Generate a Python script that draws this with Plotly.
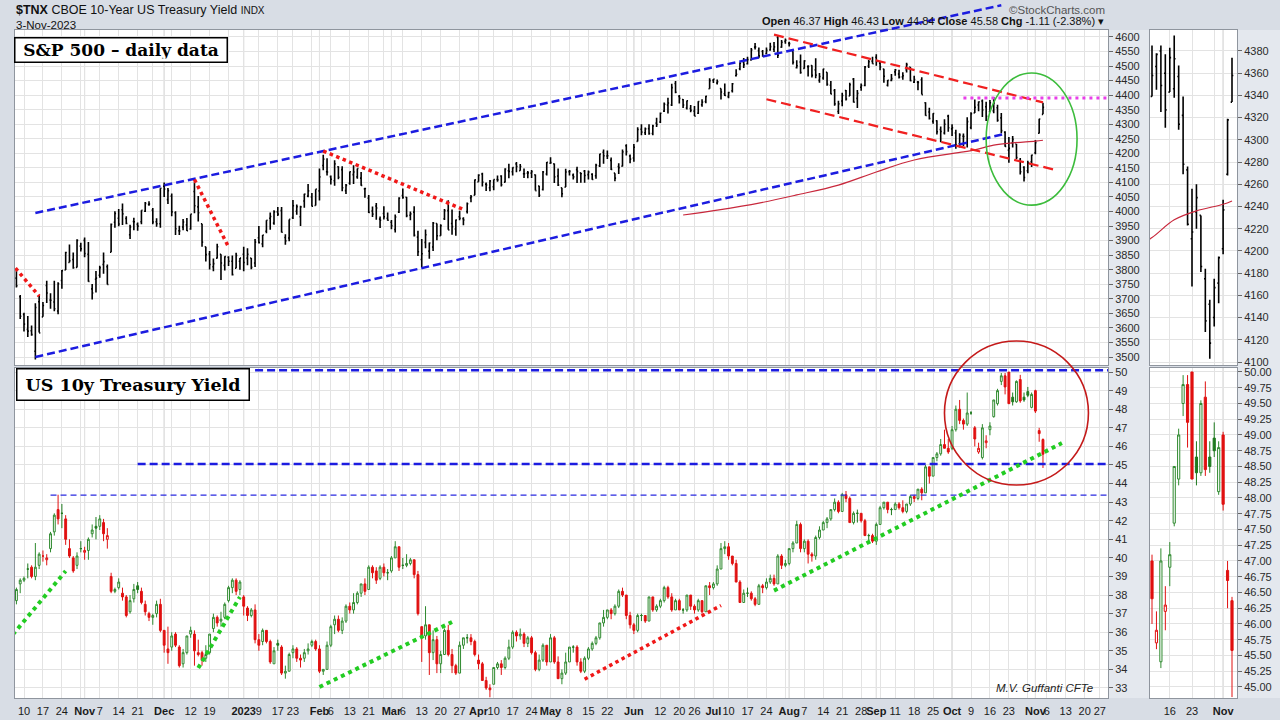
import plotly.graph_objects as go
import pandas as pd

# ---------------- DATA ----------------
holidays = ['2022-11-24', '2022-12-26', '2023-01-02', '2023-01-16', '2023-02-20', '2023-04-07',
            '2023-05-29', '2023-06-19', '2023-07-04', '2023-09-04', '2023-11-23']
first_day = '2022-10-06'

# S&P 500 daily OHLC (Oct 6 2022 .. Nov 3 2023), one row per month
spx_open = [
    3771, 3707, 3646, 3595, 3590, 3520, 3690, 3638, 3746, 3696, 3689, 3658, 3763, 3799, 3825, 3835, 3808, 3881,
    3901, 3853, 3734, 3767, 3781, 3818, 3810, 3860, 3963, 3977, 4006, 3976, 3920, 3966, 3956, 3965, 4001, 4024, 4005, 3965, 3958,
    4087, 4041, 4053, 3996, 3934, 3947, 3954, 3940, 4069, 4016, 3958, 3879, 3854, 3810, 3840, 3853, 3815, 3843, 3829, 3805, 3829,
    3853, 3840, 3840, 3823, 3910, 3889, 3932, 3977, 3960, 3999, 4003, 3911, 3909, 3979, 4001, 3982, 4036, 4053, 4050, 4021,
    4071, 4158, 4137, 4120, 4106, 4154, 4144, 4072, 4097, 4127, 4119, 4115, 4078, 4046, 4002, 4019, 3974, 3993, 3977,
    3963, 3938, 3998, 4055, 4049, 3987, 3998, 3912, 3835, 3894, 3864, 3878, 3959, 3917, 3975, 4003, 3959, 3940, 3982, 3975, 4000, 4047, 4056,
    4102, 4129, 4094, 4082, 4085, 4110, 4122, 4101, 4140, 4137, 4164, 4140, 4130, 4132, 4132, 4126, 4088, 4076, 4129,
    4166, 4164, 4122, 4082, 4084, 4137, 4125, 4144, 4133, 4139, 4127, 4128, 4123, 4157, 4204, 4191, 4176, 4132, 4155, 4156, 4226, 4191,
    4184, 4241, 4283, 4271, 4285, 4268, 4304, 4308, 4345, 4366, 4366, 4440, 4396, 4385, 4356, 4354, 4345, 4338, 4367, 4378, 4422,
    4451, 4442, 4423, 4405, 4395, 4415, 4467, 4491, 4514, 4508, 4521, 4565, 4553, 4550, 4543, 4555, 4558, 4598, 4565, 4585,
    4578, 4550, 4494, 4514, 4492, 4498, 4502, 4487, 4451, 4459, 4479, 4434, 4416, 4344, 4380, 4416, 4397, 4455, 4389, 4427, 4433, 4500, 4517,
    4530, 4510, 4490, 4434, 4451, 4480, 4473, 4463, 4487, 4497, 4445, 4445, 4453, 4374, 4342, 4310, 4312, 4282, 4270, 4328,
    4284, 4270, 4233, 4259, 4234, 4289, 4339, 4366, 4380, 4360, 4343, 4346, 4357, 4322, 4273, 4211, 4235, 4232, 4175, 4152, 4140, 4171,
    4202, 4269, 4334,
]
spx_high = [
    3797, 3713, 3652, 3641, 3608, 3685, 3712, 3689, 3762, 3719, 3762, 3757, 3799, 3862, 3887, 3859, 3905, 3893,
    3911, 3895, 3751, 3796, 3814, 3859, 3818, 3959, 4001, 4009, 4028, 3984, 3955, 3979, 3962, 4004, 4033, 4035, 4012, 3977, 4080,
    4100, 4081, 4062, 4001, 3951, 3974, 3978, 3991, 4101, 4053, 3958, 3879, 3864, 3839, 3889, 3853, 3846, 3846, 3849, 3858, 3840,
    3879, 3874, 3840, 3906, 3950, 3919, 3970, 3997, 4004, 4016, 4016, 3922, 3973, 4040, 4024, 4020, 4061, 4095, 4064, 4077,
    4148, 4195, 4183, 4124, 4176, 4156, 4156, 4095, 4138, 4159, 4148, 4136, 4082, 4057, 4017, 4029, 3983, 4018, 3997,
    3971, 3990, 4049, 4079, 4050, 4000, 4018, 3934, 3906, 3938, 3894, 3964, 3959, 3956, 4009, 4039, 4007, 3973, 4003, 3980, 4031, 4057, 4110,
    4128, 4133, 4100, 4108, 4110, 4124, 4125, 4149, 4164, 4152, 4170, 4163, 4148, 4139, 4143, 4127, 4089, 4139, 4170,
    4187, 4165, 4148, 4082, 4147, 4143, 4131, 4154, 4133, 4143, 4141, 4132, 4164, 4199, 4213, 4210, 4186, 4132, 4166, 4213, 4231, 4196,
    4232, 4290, 4300, 4289, 4300, 4298, 4322, 4340, 4375, 4391, 4439, 4449, 4401, 4387, 4382, 4366, 4363, 4379, 4386, 4398, 4458,
    4456, 4454, 4423, 4440, 4412, 4442, 4489, 4513, 4528, 4532, 4562, 4579, 4564, 4555, 4564, 4580, 4583, 4607, 4590, 4595,
    4584, 4551, 4520, 4540, 4520, 4503, 4503, 4527, 4476, 4491, 4479, 4449, 4421, 4381, 4408, 4418, 4443, 4459, 4418, 4440, 4500, 4521, 4532,
    4541, 4515, 4491, 4452, 4473, 4490, 4487, 4479, 4511, 4497, 4467, 4449, 4462, 4376, 4357, 4338, 4314, 4292, 4317, 4333,
    4300, 4281, 4269, 4268, 4324, 4341, 4385, 4378, 4385, 4377, 4383, 4394, 4367, 4339, 4276, 4256, 4260, 4232, 4184, 4156, 4175, 4195,
    4246, 4319, 4374,
]
spx_low = [
    3739, 3631, 3588, 3569, 3573, 3491, 3584, 3638, 3686, 3666, 3657, 3647, 3735, 3799, 3825, 3803, 3808, 3863,
    3843, 3759, 3698, 3722, 3772, 3786, 3749, 3860, 3944, 3949, 3954, 3956, 3906, 3936, 3934, 3956, 3998, 4020, 3956, 3948, 3944,
    4050, 4026, 3984, 3919, 3919, 3936, 3933, 3937, 3994, 3966, 3879, 3828, 3801, 3795, 3839, 3765, 3797, 3813, 3780, 3805, 3800,
    3795, 3815, 3802, 3809, 3890, 3877, 3925, 3937, 3955, 3985, 3928, 3886, 3898, 3974, 3989, 3950, 4013, 4049, 4017, 4021,
    4038, 4142, 4124, 4093, 4089, 4111, 4070, 4060, 4092, 4095, 4113, 4089, 4047, 3995, 3981, 3972, 3943, 3973, 3968,
    3939, 3928, 3995, 4044, 3980, 3970, 3914, 3847, 3808, 3874, 3838, 3864, 3901, 3917, 3971, 3937, 3920, 3917, 3970, 3953, 3993, 4032, 4056,
    4102, 4086, 4071, 4070, 4073, 4102, 4086, 4100, 4114, 4124, 4135, 4140, 4115, 4114, 4115, 4072, 4050, 4072, 4124,
    4164, 4098, 4088, 4049, 4084, 4124, 4110, 4098, 4099, 4099, 4110, 4109, 4113, 4153, 4164, 4181, 4143, 4104, 4129, 4155, 4193, 4166,
    4171, 4241, 4262, 4263, 4264, 4262, 4291, 4304, 4342, 4337, 4363, 4407, 4371, 4356, 4351, 4341, 4328, 4335, 4360, 4372, 4422,
    4442, 4437, 4385, 4397, 4389, 4409, 4464, 4486, 4493, 4505, 4519, 4557, 4527, 4532, 4541, 4553, 4548, 4528, 4563, 4577,
    4567, 4505, 4492, 4474, 4491, 4464, 4461, 4458, 4443, 4453, 4432, 4403, 4364, 4335, 4362, 4382, 4397, 4375, 4356, 4415, 4431, 4493, 4508,
    4501, 4486, 4443, 4430, 4448, 4467, 4457, 4453, 4478, 4448, 4442, 4417, 4402, 4329, 4316, 4302, 4265, 4238, 4265, 4274,
    4260, 4216, 4220, 4225, 4220, 4283, 4339, 4345, 4325, 4311, 4343, 4338, 4309, 4269, 4223, 4168, 4220, 4181, 4127, 4103, 4132, 4153,
    4197, 4268, 4334,
]
spx_close = [
    3745, 3640, 3613, 3589, 3577, 3670, 3583, 3677, 3720, 3695, 3666, 3752, 3797, 3859, 3831, 3807, 3901, 3872,
    3856, 3760, 3720, 3771, 3807, 3828, 3749, 3956, 3993, 3957, 3992, 3959, 3947, 3965, 3950, 4004, 4028, 4026, 3964, 3958, 4080,
    4077, 4072, 3999, 3941, 3933, 3964, 3934, 3991, 4020, 3996, 3895, 3852, 3818, 3821, 3879, 3823, 3845, 3829, 3783, 3849, 3840,
    3825, 3853, 3808, 3895, 3893, 3919, 3970, 3983, 3999, 3991, 3929, 3899, 3973, 4020, 4017, 4016, 4060, 4071, 4018, 4077,
    4119, 4180, 4136, 4111, 4164, 4118, 4082, 4090, 4137, 4136, 4148, 4090, 4079, 3997, 3991, 4012, 3970, 3982, 3970,
    3951, 3981, 4046, 4048, 3986, 3992, 3918, 3862, 3855, 3920, 3892, 3960, 3917, 3951, 4003, 3937, 3948, 3971, 3977, 3971, 4027, 4051, 4109,
    4125, 4101, 4091, 4105, 4110, 4109, 4092, 4146, 4138, 4151, 4155, 4155, 4130, 4133, 4137, 4072, 4056, 4136, 4169,
    4168, 4119, 4091, 4061, 4136, 4138, 4119, 4138, 4131, 4124, 4136, 4110, 4159, 4198, 4192, 4192, 4145, 4115, 4151, 4205, 4206, 4180,
    4221, 4282, 4273, 4284, 4268, 4294, 4299, 4338, 4369, 4373, 4426, 4410, 4389, 4366, 4381, 4348, 4328, 4378, 4376, 4396, 4450,
    4455, 4446, 4411, 4399, 4409, 4439, 4472, 4510, 4505, 4522, 4555, 4566, 4535, 4536, 4554, 4567, 4566, 4537, 4582, 4589,
    4577, 4513, 4501, 4478, 4518, 4499, 4468, 4469, 4464, 4490, 4437, 4404, 4370, 4370, 4399, 4387, 4436, 4376, 4406, 4433, 4497, 4515, 4508,
    4516, 4497, 4465, 4451, 4457, 4487, 4462, 4467, 4505, 4450, 4454, 4444, 4402, 4330, 4320, 4337, 4274, 4275, 4300, 4288,
    4288, 4229, 4263, 4258, 4309, 4336, 4358, 4377, 4349, 4327, 4374, 4373, 4314, 4278, 4224, 4217, 4248, 4186, 4137, 4117, 4167, 4194,
    4237, 4318, 4358,
]

# US 10y Treasury yield ($TNX, yield x 10) daily OHLC
tnx_open = [
    37.7, 38.6, 38.8, 39.4, 39.5, 39.0, 39.6, 40.1, 39.9, 40.5, 41.4, 42.6, 42.4, 42.1, 40.5, 40.0, 39.6, 40.5,
    40.3, 40.4, 41.3, 41.7, 41.7, 41.9, 41.0, 39.0, 38.2, 38.4, 38.1, 37.9, 37.1, 37.8, 38.5, 38.2, 37.5, 37.0, 36.8, 37.0, 37.5,
    36.1, 35.1, 35.2, 35.9, 35.2, 34.3, 34.9, 35.9, 35.9, 34.9, 34.9, 34.6, 34.9, 36.2, 36.8, 36.6, 36.8, 37.7, 38.4, 38.8, 38.3,
    37.9, 37.3, 36.9, 37.2, 35.6, 35.5, 36.1, 35.5, 34.3, 35.4, 35.2, 33.8, 33.9, 34.9, 35.1, 34.6, 34.6, 35.0, 35.3, 35.5,
    35.1, 33.9, 34.0, 35.3, 36.4, 36.7, 36.1, 36.6, 37.4, 37.2, 37.6, 38.1, 38.6, 38.3, 39.5, 39.3, 38.9, 39.5, 39.2,
    39.3, 40.0, 40.6, 39.6, 39.6, 39.7, 39.9, 39.1, 36.3, 35.8, 36.4, 34.9, 35.6, 34.3, 34.8, 36.1, 34.8, 34.2, 33.8, 35.3, 35.7, 35.7, 35.5,
    34.5, 34.3, 33.4, 33.0, 33.2, 34.1, 34.3, 34.1, 34.6, 35.2, 36.0, 35.8, 35.9, 35.4, 35.7, 34.9, 34.0, 34.5, 35.3,
    34.4, 35.7, 34.4, 33.5, 33.8, 34.4, 35.2, 35.2, 34.4, 33.9, 34.6, 35.1, 35.4, 35.7, 36.5, 36.8, 37.2, 37.0, 37.4, 38.2, 38.0, 36.9,
    36.4, 36.1, 36.9, 36.9, 36.6, 37.9, 37.2, 37.4, 37.7, 38.4, 37.9, 37.2, 37.7, 37.2, 37.2, 38.0, 37.4, 37.2, 37.7, 37.1, 38.5,
    38.4, 38.6, 39.4, 40.5, 40.6, 40.1, 39.7, 38.7, 37.6, 38.1, 38.1, 37.8, 37.5, 38.5, 38.4, 38.7, 38.9, 38.6, 40.1, 39.6,
    39.7, 40.5, 40.8, 41.8, 40.5, 40.9, 40.2, 40.1, 41.1, 41.5, 41.9, 42.1, 42.6, 43.0, 42.5, 43.4, 43.2, 41.9, 42.4, 42.4, 42.0, 41.2, 41.2,
    40.9, 41.8, 42.7, 43.0, 42.6, 42.6, 42.9, 42.7, 42.5, 42.9, 43.3, 43.2, 43.7, 43.5, 44.9, 44.4, 45.4, 45.6, 46.1, 45.9,
    45.9, 46.9, 48.0, 47.4, 47.2, 47.8, 47.0, 45.7, 45.4, 46.2, 46.9, 47.6, 48.3, 49.5, 49.8, 50.0, 48.65, 48.4, 49.6, 48.65, 48.95, 48.1,
    49.0, 46.85, 46.37,
]
tnx_high = [
    38.4, 38.9, 39.0, 39.7, 39.6, 40.8, 40.3, 40.4, 40.2, 41.4, 42.4, 43.4, 42.9, 42.3, 41.0, 40.1, 40.3, 40.9,
    40.6, 41.1, 41.8, 42.2, 42.3, 42.1, 41.6, 39.2, 38.4, 38.9, 38.4, 38.0, 38.0, 38.6, 38.7, 38.4, 37.7, 37.1, 37.0, 37.7, 37.8,
    36.1, 36.3, 36.0, 36.0, 35.3, 35.1, 35.8, 36.3, 36.1, 35.6, 35.0, 35.3, 35.9, 37.0, 36.9, 37.1, 37.6, 38.5, 38.9, 38.9, 38.8,
    38.0, 37.4, 37.3, 37.5, 35.9, 36.2, 36.1, 35.6, 35.2, 35.6, 35.3, 34.2, 34.9, 35.3, 35.2, 34.8, 35.1, 35.4, 35.6, 35.6,
    35.3, 34.0, 35.5, 36.4, 36.9, 36.9, 36.8, 37.5, 37.6, 38.1, 38.2, 38.6, 38.9, 39.6, 39.6, 39.5, 39.6, 39.7, 39.4,
    40.1, 40.9, 40.6, 40.0, 40.2, 40.0, 39.9, 39.3, 36.3, 37.4, 36.4, 36.1, 35.8, 35.0, 36.2, 36.4, 35.1, 34.3, 35.5, 35.7, 35.9, 35.9, 35.6,
    34.8, 34.4, 33.6, 33.2, 34.1, 34.4, 34.5, 34.7, 35.6, 36.1, 36.1, 36.2, 36.0, 35.8, 35.8, 35.0, 34.8, 35.4, 35.3,
    35.9, 35.8, 34.7, 34.0, 34.9, 35.2, 35.3, 35.3, 34.6, 34.7, 35.2, 35.5, 35.8, 36.5, 37.2, 37.2, 37.3, 37.5, 38.3, 38.4, 38.0, 37.1,
    36.5, 37.0, 37.0, 36.9, 37.9, 37.9, 37.5, 37.8, 38.5, 38.5, 38.1, 37.8, 37.8, 37.3, 38.0, 38.0, 37.5, 37.8, 37.7, 38.5, 38.7,
    38.7, 39.6, 40.8, 40.9, 40.8, 40.1, 39.9, 38.8, 38.3, 38.4, 38.2, 37.9, 38.6, 38.6, 38.9, 39.1, 39.1, 40.2, 40.2, 39.9,
    40.5, 40.9, 42.0, 41.9, 41.0, 41.0, 40.3, 41.2, 41.7, 42.0, 42.2, 42.6, 43.2, 43.1, 43.5, 43.6, 43.3, 42.5, 42.6, 42.4, 42.1, 41.3, 41.3,
    41.9, 42.8, 43.0, 43.0, 42.7, 43.0, 43.0, 43.1, 42.9, 43.4, 43.4, 43.7, 43.8, 45.0, 44.9, 45.4, 45.7, 46.4, 46.9, 46.4,
    47.1, 48.2, 48.5, 47.5, 48.9, 47.9, 47.1, 46.2, 47.2, 46.6, 47.3, 48.5, 49.1, 49.95, 49.95, 50.0, 48.9, 49.55, 49.85, 48.9, 49.2, 48.9,
    49.05, 47.0, 46.43,
]
tnx_low = [
    37.5, 38.1, 38.7, 38.9, 38.9, 38.8, 39.4, 39.8, 39.6, 40.3, 41.2, 41.8, 41.6, 40.7, 40.0, 39.2, 39.4, 40.3,
    39.9, 39.9, 41.1, 41.0, 41.5, 40.9, 40.5, 38.1, 38.1, 38.3, 37.7, 36.8, 37.0, 37.6, 38.1, 37.5, 36.9, 36.6, 36.4, 36.8, 36.0,
    34.9, 34.3, 35.0, 35.2, 34.1, 34.1, 34.8, 35.7, 34.2, 34.7, 34.2, 34.4, 34.8, 36.0, 36.3, 36.3, 36.7, 37.6, 38.1, 38.0, 38.0,
    36.9, 36.6, 36.8, 35.4, 35.0, 35.3, 35.4, 34.3, 34.3, 35.0, 33.7, 33.5, 33.9, 34.6, 34.4, 34.1, 34.4, 34.8, 35.2, 35.0,
    33.8, 33.7, 34.0, 35.2, 35.9, 36.0, 35.9, 36.5, 37.0, 37.0, 37.5, 37.9, 38.0, 38.3, 38.9, 38.6, 38.8, 39.0, 38.8,
    39.2, 40.0, 39.3, 39.4, 39.5, 39.6, 38.9, 36.9, 34.4, 35.6, 33.7, 34.5, 33.8, 33.8, 34.8, 34.7, 33.8, 33.7, 33.8, 35.1, 35.4, 35.3, 34.7,
    34.0, 33.4, 32.9, 32.5, 33.2, 34.0, 33.7, 34.0, 34.5, 35.1, 35.5, 35.6, 35.2, 35.2, 34.8, 33.9, 33.9, 34.4, 34.2,
    34.4, 34.3, 33.5, 33.2, 33.7, 34.4, 34.9, 34.2, 33.8, 33.8, 34.5, 35.0, 35.3, 35.6, 36.3, 36.7, 36.7, 36.9, 37.3, 37.9, 36.7, 36.2,
    35.9, 36.0, 36.6, 36.5, 36.6, 37.1, 37.1, 37.3, 37.6, 37.8, 37.1, 37.2, 37.2, 37.0, 37.1, 37.2, 37.0, 37.1, 37.0, 37.1, 38.0,
    38.3, 38.5, 39.4, 40.2, 39.9, 39.6, 38.7, 37.6, 37.6, 37.9, 37.7, 37.4, 37.5, 38.1, 38.3, 38.6, 38.5, 38.6, 39.4, 39.5,
    39.6, 40.3, 40.8, 40.3, 40.3, 39.7, 39.8, 39.9, 41.0, 41.5, 41.6, 42.0, 42.5, 42.4, 42.5, 43.0, 41.9, 41.8, 41.9, 41.9, 41.2, 40.9, 40.8,
    40.7, 41.8, 42.6, 42.4, 42.3, 42.6, 42.6, 42.4, 42.4, 42.8, 43.0, 43.1, 43.1, 43.5, 44.0, 44.4, 45.2, 45.5, 45.9, 45.6,
    45.8, 46.8, 47.2, 46.9, 47.1, 47.7, 46.0, 45.6, 45.3, 45.9, 46.6, 47.55, 48.2, 49.3, 48.8, 48.3, 48.2, 48.35, 48.35, 48.4, 48.65, 48.05,
    47.8, 46.25, 44.84,
]
tnx_close = [
    38.3, 38.8, 38.9, 39.4, 39.0, 39.5, 40.2, 40.1, 40.0, 41.3, 42.3, 42.1, 42.4, 41.0, 40.1, 39.3, 40.1, 40.5,
    40.4, 41.0, 41.5, 41.6, 42.1, 41.3, 41.2, 38.2, 38.3, 38.7, 37.9, 36.9, 37.7, 38.3, 38.3, 37.6, 37.1, 36.8, 36.9, 37.5, 36.1,
    35.3, 34.9, 35.8, 35.3, 34.2, 34.9, 35.8, 36.1, 35.0, 34.8, 34.5, 34.8, 35.9, 36.8, 36.5, 36.7, 37.5, 38.4, 38.8, 38.2, 38.7,
    37.4, 36.9, 37.2, 35.6, 35.3, 36.1, 35.5, 34.4, 35.0, 35.3, 33.8, 33.9, 34.8, 35.1, 34.6, 34.5, 34.9, 35.1, 35.5, 35.1,
    33.9, 34.0, 35.3, 36.3, 36.7, 36.1, 36.6, 37.4, 37.2, 37.6, 38.1, 38.6, 38.2, 39.5, 39.2, 38.8, 39.5, 39.2, 39.2,
    40.0, 40.6, 39.5, 39.6, 39.7, 39.9, 39.1, 37.0, 35.7, 36.4, 34.9, 35.6, 34.3, 34.8, 36.1, 34.8, 34.2, 33.8, 35.3, 35.7, 35.7, 35.5, 34.8,
    34.3, 33.4, 33.0, 32.9, 34.1, 34.3, 34.1, 34.6, 35.2, 36.0, 35.8, 35.9, 35.4, 35.7, 34.9, 34.0, 34.5, 35.3, 34.4,
    35.7, 34.4, 33.5, 33.8, 34.4, 35.2, 35.2, 34.4, 33.9, 34.6, 35.1, 35.4, 35.7, 36.5, 36.8, 37.2, 37.0, 37.4, 38.2, 38.0, 36.9, 36.4,
    36.1, 36.9, 36.9, 36.6, 37.9, 37.2, 37.4, 37.7, 38.4, 37.9, 37.2, 37.7, 37.2, 37.2, 38.0, 37.4, 37.2, 37.7, 37.1, 38.5, 38.4,
    38.6, 39.4, 40.5, 40.6, 40.1, 39.7, 38.7, 37.6, 38.1, 38.1, 37.8, 37.5, 38.5, 38.4, 38.7, 38.9, 38.6, 40.1, 39.6, 39.7,
    40.5, 40.8, 41.8, 40.5, 40.9, 40.2, 40.1, 41.1, 41.5, 41.9, 42.1, 42.6, 43.0, 42.5, 43.4, 43.2, 41.9, 42.4, 42.4, 42.0, 41.2, 41.2, 40.9,
    41.8, 42.7, 43.0, 42.6, 42.6, 42.9, 42.7, 42.5, 42.9, 43.3, 43.2, 43.7, 43.5, 44.9, 44.4, 45.4, 45.6, 46.1, 45.9, 45.7,
    46.9, 48.0, 47.4, 47.2, 47.8, 47.8, 46.4, 45.9, 47.0, 46.3, 47.1, 48.5, 49.0, 49.8, 49.2, 48.3, 48.4, 49.5, 48.45, 48.5, 48.75, 48.8,
    47.9, 46.69, 45.58,
]

# 200-day moving average of the S&P 500
ma_dates = ['2023-06-21', '2023-07-05', '2023-07-20', '2023-08-03', '2023-08-18', '2023-09-01', '2023-09-18',
            '2023-10-05', '2023-10-10', '2023-10-17', '2023-10-24', '2023-11-01', '2023-11-03']
ma_values = [3988, 4005, 4029, 4057, 4091, 4136, 4177, 4205, 4212, 4228, 4236, 4242, 4245]

# x-axis labels
tick_dates = ['2022-10-10', '2022-10-17', '2022-10-24', '2022-11-01', '2022-11-07', '2022-11-14', '2022-11-21',
              '2022-12-01', '2022-12-12', '2022-12-19', '2023-01-03', '2023-01-09', '2023-01-17', '2023-01-23',
              '2023-02-01', '2023-02-06', '2023-02-13', '2023-02-21', '2023-03-01', '2023-03-06', '2023-03-13',
              '2023-03-20', '2023-03-27', '2023-04-03', '2023-04-10', '2023-04-17', '2023-04-24', '2023-05-01',
              '2023-05-08', '2023-05-15', '2023-05-22', '2023-06-01', '2023-06-12', '2023-06-20', '2023-06-26',
              '2023-07-03', '2023-07-10', '2023-07-17', '2023-07-24', '2023-08-01', '2023-08-07', '2023-08-14',
              '2023-08-21', '2023-08-28', '2023-09-01', '2023-09-11', '2023-09-18', '2023-09-25', '2023-10-02',
              '2023-10-09', '2023-10-16', '2023-10-23', '2023-11-01', '2023-11-06', '2023-11-13', '2023-11-20',
              '2023-11-27']
tick_text = ['10', '17', '24', '<b>Nov</b>', '7', '14', '21', '<b>Dec</b>', '12', '19', '<b>2023</b>', '9', '17', '23',
             '<b>Feb</b>', '6', '13', '21', '<b>Mar</b>', '6', '13', '20', '27', '<b>Apr</b>', '10', '17', '24',
             '<b>May</b>', '8', '15', '22', '<b>Jun</b>', '12', '20', '26', '<b>Jul</b>', '10', '17', '24',
             '<b>Aug</b>', '7', '14', '21', '28', '<b>Sep</b>', '11', '18', '25', '<b>Oct</b>', '9', '16', '23',
             '<b>Nov</b>', '6', '13', '20', '27']
side_tick_dates = ['2023-10-16', '2023-10-23', '2023-11-01']
side_tick_text = ['16', '23', '<b>Nov</b>']

# drawn trend lines: (date0, value0, date1, value1, style)
spx_lines = [
    ('2022-10-13', 3995, '2023-10-19', 4709, 'blue'),
    ('2022-10-13', 3500, '2023-10-20', 4267, 'blue'),
    ('2022-09-29', 3879, '2022-10-14', 3709, 'reddot'),
    ('2022-12-13', 4110, '2022-12-27', 3878, 'reddot'),
    ('2023-02-02', 4208, '2023-03-28', 4007, 'reddot'),
    ('2023-07-26', 4608, '2023-11-03', 4375, 'reddash'),
    ('2023-07-24', 4386, '2023-11-08', 4144, 'reddash'),
    ('2023-10-05', 4390, '2023-11-30', 4390, 'magenta'),
]
tnx_lines = [
    ('2023-01-06', 50.1, '2023-11-30', 50.1, 'blue'),
    ('2022-11-21', 45.05, '2023-11-30', 45.05, 'blue'),
    ('2022-10-19', 43.38, '2023-11-30', 43.38, 'bluethin'),
    ('2022-09-29', 34.88, '2022-10-25', 39.29, 'greendot'),
    ('2022-12-14', 34.07, '2022-12-30', 37.90, 'greendot'),
    ('2023-02-01', 33.05, '2023-03-23', 36.55, 'greendot'),
    ('2023-05-12', 33.47, '2023-07-06', 37.44, 'reddot'),
    ('2023-07-26', 38.24, '2023-11-10', 46.18, 'greendot'),
]
spx_ellipse = ('2023-10-13', 4022, '2023-11-16', 4476)
tnx_ellipse = ('2023-09-28', 43.92, '2023-11-21', 51.67)

# ---------------- GEOMETRY ----------------
W, H = 1280, 720
cal = pd.bdate_range('2022-09-26', '2023-11-30', freq='C', holidays=holidays)
pos = {d.strftime('%Y-%m-%d'): i for i, d in enumerate(cal)}
k0 = pos[first_day]
lens = {k: len(v) for k, v in dict(spx_open=spx_open, spx_high=spx_high, spx_low=spx_low, spx_close=spx_close,
                                   tnx_open=tnx_open, tnx_high=tnx_high, tnx_low=tnx_low, tnx_close=tnx_close).items()}
if len(set(lens.values())) != 1:
    raise SystemExit('length mismatch: %s' % lens)
n = len(spx_close)
xs = list(range(k0, k0 + n))
dates = cal[k0:k0 + n]


def fx(px):
    return px / W


def fy(py):
    return 1 - py / H


main_dom = [fx(15), fx(1108)]
side_dom = [fx(1150), fx(1237)]
top_dom = [fy(365), fy(30)]
bot_dom = [fy(698), fy(368)]

px_per_day = 3.788
x_main = [pos['2022-10-10'] - 9 / px_per_day, pos['2022-10-10'] + 1084 / px_per_day]
x_side = [pos['2023-10-10'] - 2 / 4.444, pos['2023-11-03'] + 5 / 4.444]
y_top = [3472.5, 4624]
y_bot = [32.46, 50.22]
y_stop = [4097.3, 4398.9]
y_sbot = [44.825, 50.063]


def vp(v, rng, dom):
    return dom[0] + (v - rng[0]) / (rng[1] - rng[0]) * (dom[1] - dom[0])


# week / month starts for grid lines
week_starts, month_starts = [], []
for i, d in enumerate(cal):
    if i == 0:
        continue
    p = cal[i - 1]
    if d.isocalendar()[1] != p.isocalendar()[1]:
        week_starts.append(i)
    if d.month != p.month:
        month_starts.append(i)
grid_x = sorted(set(week_starts) | set(month_starts))
lab = {pos[d]: t for d, t in zip(tick_dates, tick_text)}
main_ticktext = [lab.get(g, '') for g in grid_x]
slab = {pos[d]: t for d, t in zip(side_tick_dates, side_tick_text)}
side_ticktext = [slab.get(g, '') for g in grid_x]

# ---------------- FIGURE ----------------
fig = go.Figure()

for xa, ya in [('x', 'y'), ('x3', 'y3')]:
    fig.add_trace(go.Ohlc(x=xs, open=spx_open, high=spx_high, low=spx_low, close=spx_close,
                          increasing=dict(line=dict(color='#000000', width=1.6)),
                          decreasing=dict(line=dict(color='#000000', width=1.6)),
                          tickwidth=0.3, xaxis=xa, yaxis=ya, hoverinfo='skip'))
    fig.add_trace(go.Scatter(x=[pos[d] for d in ma_dates], y=ma_values, mode='lines',
                             line=dict(color='#c8283c', width=1.2, shape='spline'),
                             xaxis=xa, yaxis=ya, hoverinfo='skip'))

prev_close = [tnx_open[0]] + tnx_close[:-1]
styles = {
    (True, True): ('#2f8a2f', '#ffffff'),
    (True, False): ('#1e7a1e', '#1e7a1e'),
    (False, True): ('#e01010', '#ffffff'),
    (False, False): ('#e01010', '#e01010'),
}
for xa, ya in [('x2', 'y2'), ('x4', 'y4')]:
    for key, (lc, fc) in styles.items():
        idx = [i for i in range(n) if (tnx_close[i] >= prev_close[i], tnx_close[i] > tnx_open[i]) == key]
        if not idx:
            continue
        st = dict(line=dict(color=lc, width=1), fillcolor=fc)
        fig.add_trace(go.Candlestick(x=[xs[i] for i in idx], open=[tnx_open[i] for i in idx],
                                     high=[tnx_high[i] for i in idx], low=[tnx_low[i] for i in idx],
                                     close=[tnx_close[i] for i in idx], increasing=st, decreasing=st,
                                     whiskerwidth=0, xaxis=xa, yaxis=ya, hoverinfo='skip'))

line_styles = {
    'blue': dict(color='#1c1ce0', width=2.5, dash='8px,4px'),
    'bluethin': dict(color='#2a2ae0', width=1.2, dash='6px,4px'),
    'reddot': dict(color='#f01818', width=3.5, dash='dot'),
    'reddash': dict(color='#f02020', width=2.2, dash='10px,5px'),
    'magenta': dict(color='#e83ee8', width=3, dash='3px,4px'),
    'greendot': dict(color='#22cc22', width=4, dash='dot'),
}
shapes = []
for xref, items, rng, dom in [('x', spx_lines, y_top, top_dom), ('x2', tnx_lines, y_bot, bot_dom)]:
    for d0, v0, d1, v1, s in items:
        shapes.append(dict(type='line', xref=xref, yref='paper', x0=pos[d0], x1=pos[d1],
                           y0=vp(v0, rng, dom), y1=vp(v1, rng, dom), line=line_styles[s], layer='above'))
for xref, (d0, v0, d1, v1), rng, dom, col in [('x', spx_ellipse, y_top, top_dom, '#3cbc3c'),
                                               ('x2', tnx_ellipse, y_bot, bot_dom, '#c41a1a')]:
    shapes.append(dict(type='circle', xref=xref, yref='paper', x0=pos[d0], x1=pos[d1],
                       y0=vp(v0, rng, dom), y1=vp(v1, rng, dom), line=dict(color=col, width=1.6)))

# darker month grid lines
for xref, dom in [('x', top_dom), ('x2', bot_dom), ('x3', top_dom), ('x4', bot_dom)]:
    for m in month_starts:
        shapes.append(dict(type='line', xref=xref, yref='paper', x0=m, x1=m, y0=dom[0], y1=dom[1],
                           line=dict(color='#c4c4c4', width=1), layer='between'))

# axis-label columns
for a, b in [(1108, 1150), (1237, 1280)]:
    shapes.append(dict(type='rect', xref='paper', yref='paper', x0=fx(a), x1=fx(b), y0=fy(698), y1=fy(30),
                       fillcolor='#e4e8ee', line=dict(width=0), layer='below'))

NARROW = 'Liberation Sans Narrow, Arial Narrow, Liberation Sans, Arial, sans-serif'
axis_common = dict(showline=True, linecolor='#8f959e', linewidth=1, mirror=True, showgrid=True,
                   gridcolor='#e3e3e3', gridwidth=1, zeroline=False, automargin=False,
                   rangeslider=dict(visible=False), fixedrange=True, tickangle=0)
yaxis_common = dict(showline=True, linecolor='#8f959e', linewidth=1, mirror=True, showgrid=True,
                    gridcolor='#e3e3e3', gridwidth=1, zeroline=False, automargin=False, side='right',
                    ticks='outside', ticklen=4, tickcolor='#666666',
                    tickfont=dict(family=NARROW, size=11, color='#2a2a2a'), fixedrange=True)
xfont = dict(family=NARROW, size=11, color='#1a1a1a')

fig.update_layout(
    width=W, height=H, margin=dict(l=0, r=0, t=0, b=0), autosize=False,
    paper_bgcolor='#d8dde5', plot_bgcolor='#ffffff', showlegend=False, hovermode=False,
    xaxis=dict(domain=main_dom, anchor='y', range=x_main, tickmode='array', tickvals=grid_x,
               ticktext=main_ticktext, showticklabels=False, ticks='', **axis_common),
    xaxis2=dict(domain=main_dom, anchor='y2', range=x_main, matches='x', tickmode='array', tickvals=grid_x,
                ticktext=main_ticktext, showticklabels=True, ticks='', ticklabelstandoff=3,
                tickfont=xfont, **axis_common),
    xaxis3=dict(domain=side_dom, anchor='y3', range=x_side, tickmode='array', tickvals=grid_x,
                ticktext=side_ticktext, showticklabels=False, ticks='', **axis_common),
    xaxis4=dict(domain=side_dom, anchor='y4', range=x_side, matches='x3', tickmode='array', tickvals=grid_x,
                ticktext=side_ticktext, showticklabels=True, ticks='', ticklabelstandoff=3,
                tickfont=xfont, **axis_common),
    yaxis=dict(domain=top_dom, anchor='x', range=y_top, tick0=3500, dtick=50, tickformat='d', **yaxis_common),
    yaxis2=dict(domain=bot_dom, anchor='x2', range=y_bot, tick0=33, dtick=1, tickformat='d', **yaxis_common),
    yaxis3=dict(domain=top_dom, anchor='x3', range=y_stop, tick0=4100, dtick=20, tickformat='d', **yaxis_common),
    yaxis4=dict(domain=bot_dom, anchor='x4', range=y_sbot, tick0=45, dtick=0.25, tickformat='.2f', **yaxis_common),
    shapes=shapes,
)

last = dates[-1]
o, h, l, c = tnx_open[-1], tnx_high[-1], tnx_low[-1], tnx_close[-1]
chg = c - tnx_close[-2]
pct = chg / tnx_close[-2] * 100
annotations = [
    dict(x=fx(14), y=fy(10), xref='paper', yref='paper', xanchor='left', yanchor='middle', showarrow=False,
         text="<b>$TNX</b> CBOE 10-Year US Treasury Yield <span style='font-size:10px'>INDX</span>",
         font=dict(family=NARROW, size=12.5, color='#111111')),
    dict(x=fx(14), y=fy(25), xref='paper', yref='paper', xanchor='left', yanchor='middle', showarrow=False,
         text=f"{last.day}-{last.strftime('%b-%Y')}", font=dict(family=NARROW, size=11.5, color='#111111')),
    dict(x=fx(1107), y=fy(10), xref='paper', yref='paper', xanchor='right', yanchor='middle', showarrow=False,
         text='©StockCharts.com', font=dict(family=NARROW, size=11.5, color='#555555')),
    dict(x=fx(1106), y=fy(21), xref='paper', yref='paper', xanchor='right', yanchor='middle', showarrow=False,
         text=(f"<b>Open</b> {o:.2f} <b>High</b> {h:.2f} <b>Low</b> {l:.2f} <b>Close</b> {c:.2f} "
               f"<b>Chg</b> {chg:.2f} ({pct:.2f}%) ▾"),
         font=dict(family=NARROW, size=11, color='#111111')),
    dict(x=fx(14), y=fy(37), xref='paper', yref='paper', xanchor='left', yanchor='top', showarrow=False,
         text='<b>S&P 500 – daily data</b>', font=dict(family='DejaVu Serif', size=17, color='#000000'),
         bgcolor='#ffffff', bordercolor='#000000', borderwidth=1.5, borderpad=3, width=205, height=17),
    dict(x=fx(16), y=fy(368), xref='paper', yref='paper', xanchor='left', yanchor='top', showarrow=False,
         text='<b>US 10y Treasury Yield</b>', font=dict(family='DejaVu Serif', size=17.5, color='#000000'),
         bgcolor='#ffffff', bordercolor='#000000', borderwidth=1.5, borderpad=3, width=225, height=24),
    dict(x=fx(1095), y=fy(688), xref='paper', yref='paper', xanchor='right', yanchor='middle', showarrow=False,
         text='<i>M.V. Guffanti CFTe</i>', font=dict(family='Liberation Sans, Arial, sans-serif', size=11.5,
                                                      color='#222222')),
]
fig.update_layout(annotations=annotations)

fig.write_html("out.html", config={'displayModeBar': False},
               post_script="document.body.style.margin='0';document.body.style.overflow='hidden';")
